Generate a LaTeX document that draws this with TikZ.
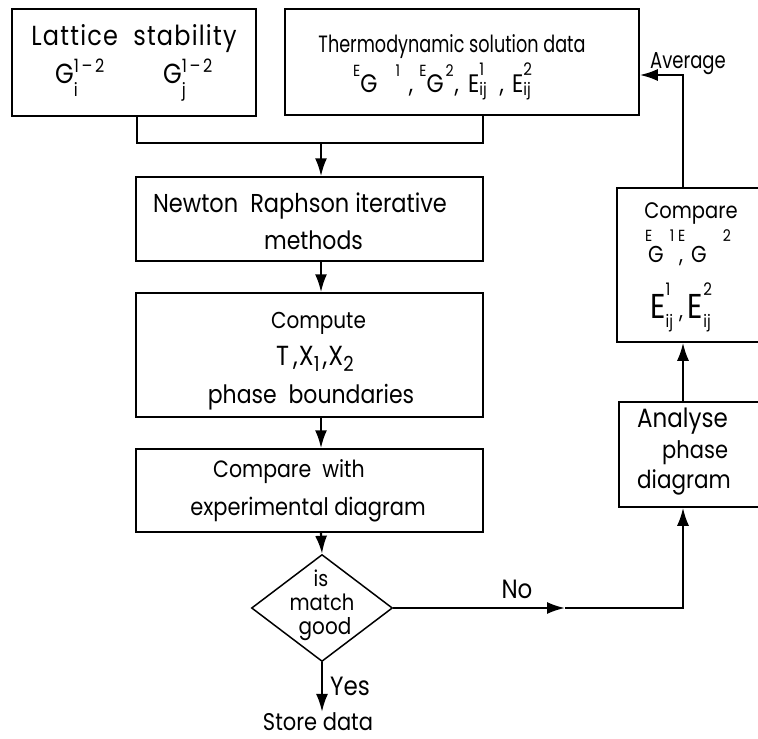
\documentclass[tikz,border=0pt]{standalone}
\usepackage{fontspec}
\setmainfont{Poppins}
\usetikzlibrary{arrows.meta,shapes.geometric,calc}
% one line of text: [horizontal scale], size, content (slightly stretched vertically)
\newcommand\tl[3][1]{{\fontsize{#2}{#2}\selectfont\scalebox{#1}[1.15]{#3}}}
% raised/lowered small text: shift, size, content
\newcommand\up[3]{\raisebox{#1}{\fontsize{#2}{#2}\selectfont #3}}
\begin{document}
\begin{tikzpicture}[x=1pt,y=-1pt,
  box/.style={draw,line width=1.5pt,inner sep=0pt},
  t/.style={inner sep=0pt,anchor=base},
  tw/.style={inner sep=0pt,anchor=base west},
  conn/.style={line width=2.2pt},
  arr/.style={conn,-{Latex[length=18pt,width=12pt]}}
  ]
\useasboundingbox (0,0) rectangle (758,739);
\clip (0,0) rectangle (758,739);
% ---------- boxes ----------
\node[box,minimum width=244pt,minimum height=107pt] (latt) at (134,62.5) {};
\node[box,minimum width=354pt,minimum height=106pt] (thermo) at (462,62) {};
\node[box,minimum width=347pt,minimum height=84pt] (newton) at (309.5,219) {};
\node[box,minimum width=347pt,minimum height=124pt] (compute) at (309.5,355) {};
\node[box,minimum width=347pt,minimum height=83pt] (cmpexp) at (309.5,490.5) {};
\node[box,diamond,minimum width=141pt,minimum height=107pt] (dia) at (322,608) {};
\node[box,minimum width=156pt,minimum height=154pt] (rcmp) at (695,265) {};
\node[box,minimum width=154pt,minimum height=105pt] (anal) at (696,454.5) {};
% ---------- texts ----------
\node[t] (lat1) at (134,45) {\tl{24}{\addfontfeature{LetterSpace=5}Lattice\ \ stability}};
\node[tw] (lat2a) at (55,83) {\tl{24}{G\rlap{\up{-12pt}{16}{i}}\up{9.5pt}{16}{1\,--\,2}}};
\node[tw] (lat2b) at (163,83) {\tl{24}{G\rlap{\up{-12pt}{16}{j}}\up{9.5pt}{16}{1\,--\,2}}};
\node[t] (th1) at (452,52) {\tl[0.86]{20.5}{Thermodynamic solution data}};
\node[tw] (th2) at (353,92) {\tl{22}{\up{13.5pt}{14}{E}G\hspace{18pt}\up{13.5pt}{14}{1}\hspace{9pt},\hspace{6pt}\up{13.5pt}{14}{E}G\hspace{2pt}\up{13.5pt}{14}{2}\hspace{1pt},\hspace{9pt}E\rlap{\up{14pt}{15}{1}}\up{-3pt}{15}{ij}\hspace{13pt},\hspace{8pt}E\rlap{\up{14pt}{15}{2}}\up{-3pt}{15}{ij}}};
\node[t] (nw1) at (300,212) {\tl{22.5}{Newton\hspace{12pt}Raphson iterative}};
\node[t] (nw2) at (313.5,249) {\tl{22}{methods}};
\node[t] (cp1) at (318.5,328) {\tl{20}{Compute}};
\node[tw] (cp2) at (276,365) {\tl{24}{T\hspace{4pt},\hspace{1pt}X\up{-6pt}{18}{1}\hspace{3pt},\hspace{1pt}X\up{-6pt}{18}{2}}};
\node[t] (cp3) at (311,403) {\tl{22}{phase\ \ boundaries}};
\node[tw] (ce1) at (213,477) {\tl{20.5}{Compare\ \ with}};
\node[t] (ce2) at (308,515) {\tl{21}{experimental diagram}};
\node[t] (di1) at (321,586) {\tl{19}{is}};
\node[t] (di2) at (322,610) {\tl{19.5}{match}};
\node[t] (di3) at (325,634) {\tl{20}{good}};
\node[tw] (yes) at (330,695) {\tl{23}{Yes}};
\node[t] (store) at (318,730) {\tl{21}{Store data}};
\node[t] (no) at (517,598) {\tl{23}{No}};
\node[t] (avg) at (688,68) {\tl[0.9]{20}{Average}};
\node[t] (rc1) at (691,218) {\tl{19.5}{Compare}};
\node[tw] (rc2) at (645,262) {\tl{20}{\rlap{\up{18pt}{14}{E}}\hspace{3pt}G\hspace{6pt}\up{18pt}{14}{1}\hspace{4pt}\rlap{\up{18pt}{14}{E}}\hspace{1pt},\hspace{8pt}G\hspace{16pt}\up{18pt}{14}{2}}};
\node[tw] (rc3) at (650,318) {\tl{30}{E\rlap{\up{20pt}{15}{1}}\up{-8pt}{15}{ij}\hspace{6pt}\up{0pt}{20}{,}\hspace{5pt}E\rlap{\up{20pt}{15}{2}}\up{-8pt}{15}{ij}}};
\node[tw] (an1) at (637,427) {\tl{23}{Analyse}};
\node[tw] (an2) at (662,458) {\tl{21}{phase}};
\node[tw] (an3) at (637,488) {\tl{21.5}{diagram}};
% ---------- connector helpers ----------
\coordinate (mx) at (321,0);
\coordinate (rx) at (683,0);
\coordinate (j) at (321,143);
\coordinate (lj) at (137,143);
\coordinate (tj) at (483,143);
\coordinate (noarr) at (565,608);
\coordinate (top) at (683,75);
% ---------- connectors ----------
\draw[conn] (latt.south -| lj) -- (lj) -- (tj) -- (thermo.south -| tj);
\draw[arr] (j) -- (newton.north -| mx);
\draw[arr] (newton.south -| mx) -- (compute.north -| mx);
\draw[arr] (compute.south -| mx) -- (cmpexp.north -| mx);
\draw[arr] (cmpexp.south -| mx) -- (dia.north);
\draw[arr] (dia.south) -- (store.north -| dia.south);
\draw[arr] (dia.east) -- (noarr);
\draw[arr] (noarr) -- (noarr -| rx) -- (anal.south -| rx);
\draw[arr] (anal.north -| rx) -- (rcmp.south -| rx);
\draw[arr] (rcmp.north -| rx) -- (top) -- (thermo.east |- top);
\end{tikzpicture}
\end{document}
